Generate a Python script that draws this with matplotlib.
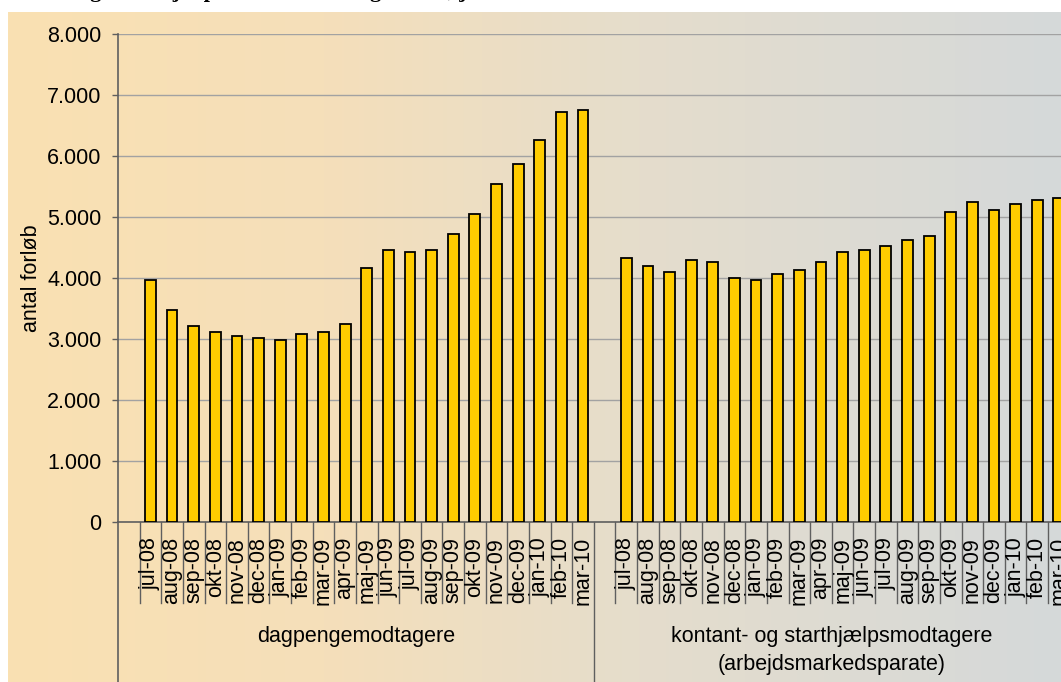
import numpy as np
import matplotlib.pyplot as plt
import matplotlib.transforms as mtransforms
from matplotlib.ticker import FuncFormatter

# data
months = ["jul-08", "aug-08", "sep-08", "okt-08", "nov-08", "dec-08",
          "jan-09", "feb-09", "mar-09", "apr-09", "maj-09", "jun-09",
          "jul-09", "aug-09", "sep-09", "okt-09", "nov-09", "dec-09",
          "jan-10", "feb-10", "mar-10"]
dagpenge = [3970, 3475, 3215, 3120, 3050, 3015, 2990, 3080, 3120, 3245, 4165,
            4460, 4430, 4460, 4720, 5050, 5540, 5870, 6260, 6720, 6755]
kontant = [4335, 4200, 4105, 4300, 4265, 4005, 3970, 4070, 4135, 4265, 4430,
           4465, 4530, 4625, 4690, 5080, 5245, 5115, 5215, 5280, 5310]
groups = ["dagpengemodtagere",
          "kontant- og starthjælpsmodtagere\n(arbejdsmarkedsparate)"]
series = [dagpenge, kontant]
yticks = list(range(0, 8001, 1000))
ylabel = "antal forløb"
# title is cut off at the top of the reference, only descenders show
title = "Udvikling i antal jobparate i aktiveringsforløb, jul-08 – mar-10"

W, H = 1061, 682
FS = 15.5
plt.rcParams["font.family"] = ["Liberation Sans", "DejaVu Sans"]

fig = plt.figure(figsize=(W / 100, H / 100), dpi=100)

# gradient background panel
bg = fig.add_axes([8 / W, 0, 1 - 8 / W, (H - 12) / H], zorder=0)
stops = np.array([0.0, 0.3, 0.6, 1.0])
cols = np.array([[250, 225, 178], [245, 223, 186], [229, 221, 204], [213, 217, 218]]) / 255
t = np.linspace(0, 1, 400)
grad = np.stack([np.interp(t, stops, cols[:, k]) for k in range(3)], axis=-1)
bg.imshow(grad[np.newaxis, :, :], aspect="auto", extent=[0, 1, 0, 1])
bg.axis("off")

slot = 21.63
n = len(months)
per_group = n + 1  # one empty slot in front of every group
ax = fig.add_axes([118 / W, (H - 522) / H, slot * 2 * per_group / W, 488 / H], zorder=1)
ax.set_facecolor("none")

for g, vals in enumerate(series):
    x = [g * per_group + 1 + i + 0.5 for i in range(n)]
    ax.bar(x, vals, width=0.5, color="#FFCC00", edgecolor="black", linewidth=1.3, zorder=3)

ax.set_xlim(0, 2 * per_group)
ax.set_ylim(0, 8000)
ax.set_yticks(yticks)
ax.yaxis.set_major_formatter(FuncFormatter(lambda v, p: f"{v:,.0f}".replace(",", ".")))
ax.yaxis.grid(True, color="#A2A2A2", linewidth=1.0)
ax.set_axisbelow(True)
ax.set_xticks([])
ax.tick_params(axis="y", direction="out", length=4.3, width=1.0, color="#5F5F5F",
               labelsize=FS, pad=7.5)
for s in ["top", "right"]:
    ax.spines[s].set_visible(False)
for s in ["left", "bottom"]:
    ax.spines[s].set_color("#5F5F5F")
    ax.spines[s].set_linewidth(1.2)
ax.set_ylabel(ylabel, fontsize=FS, labelpad=4)

# multi-level category axis
trans = mtransforms.blended_transform_factory(ax.transData, ax.transAxes)
px = 1 / 488
ax.plot([0, 0], [0, -160 * px], color="#5F5F5F", lw=1.2, transform=trans, clip_on=False)
for b in range(1, 2 * per_group):
    low = -160 * px if b == per_group else -81 * px
    ax.plot([b, b], [0, low], color="#5F5F5F", lw=1.0, transform=trans, clip_on=False)

for g in range(len(series)):
    for i, m in enumerate(months):
        ax.text(g * per_group + 1 + i + 0.5, -15 * px, m, rotation=90, ha="center",
                va="top", fontsize=FS, transform=trans)
    for k, line in enumerate(groups[g].split("\n")):
        ax.text(g * per_group + per_group / 2, -(120 + 28 * k) * px, line, ha="center",
                va="baseline", fontsize=FS, transform=trans)

fig.text(7 / W, 1 + 2.5 / H, title, fontfamily="Liberation Serif", fontweight="bold",
         fontsize=16, va="baseline", ha="left")

fig.savefig("out.png", dpi=100)
